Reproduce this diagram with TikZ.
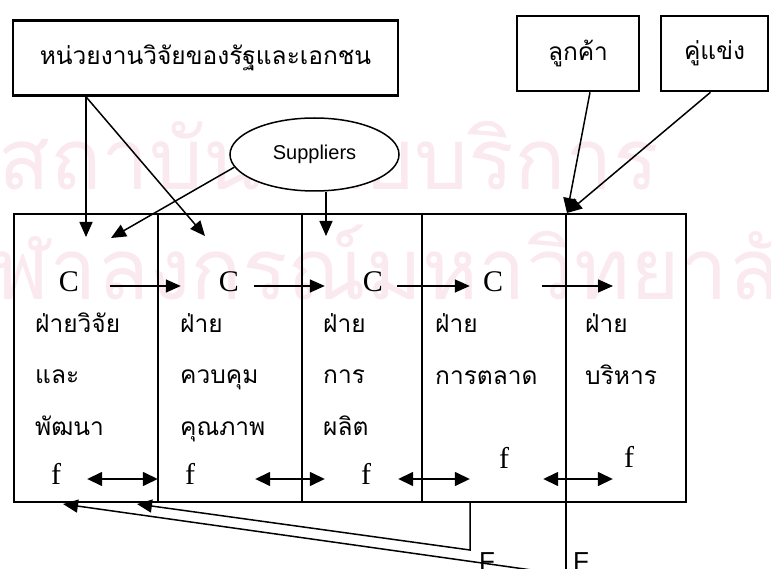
\documentclass[tikz,border=0pt]{standalone}
\usepackage{fontspec}
\usepackage{xcolor}
\usepackage{tikz}
\usetikzlibrary{
  positioning,
  calc,
  arrows.meta,
  shapes.geometric
}
\setmainfont{Liberation Serif}
\setsansfont{Liberation Sans}
\newfontfamily\thaifont[Script=Thai]{Loma}
\definecolor{stamppink}{RGB}{250,233,239}

\begin{document}
\begin{tikzpicture}[x=1pt, y=-1pt,
    flow/.style={line width=1.5pt, -{Triangle[length=15pt, width=13pt]}},
    twoway/.style={line width=1.5pt, {Triangle[length=15pt, width=14pt]}-{Triangle[length=15pt, width=14pt]}},
    plain/.style={line width=1.5pt},
    sourcebox/.style={draw, line width=2.6pt, fill=white, inner sep=0pt, minimum height=75pt,
      font=\thaifont\fontsize{24.5}{28}\selectfont},
    dept/.style={draw, line width=1.5pt, inner sep=0pt, outer sep=0pt, minimum height=288pt},
    depttext/.style={anchor=base west, align=left, inner sep=0pt,
      font=\thaifont\fontsize{24.5}{51.5}\selectfont},
    flowmark/.style={anchor=base, inner sep=0pt, font=\fontsize{30}{30}\selectfont},
    stamp/.style={inner sep=0pt, text=stamppink, font=\thaifont\fontsize{85}{85}\selectfont}
  ]
      \clip (0,0) rectangle (771,569);

      % Background stamp lettering
      \node[stamp, anchor=base west] (stamptop) at (-2,190) {สถาบันวิทยบริการ};
      \node[stamp, anchor=base east] (stampbottom) at (830,300) {จุฬาลงกรณ์มหาวิทยาลัย};

      % Outside sources
      \node[sourcebox, minimum width=385pt] (research) at (205.5,58) {หน่วยงานวิจัยของรัฐและเอกชน};
      \node[sourcebox, minimum width=122pt] (customer) at (578,53.5) {ลูกค้า};
      \node[sourcebox, minimum width=107pt] (rival) at (714.5,53.5) {คู่แข่ง};
      \node[draw, ellipse, line width=1.5pt, fill=white, minimum width=169pt, minimum height=73pt,
        inner sep=0pt, font=\sffamily\fontsize{20}{20}\selectfont] (suppliers) at (314.5,154.5) {Suppliers};

      % Departments
      \node[dept, minimum width=144pt] (rd) at (86,358) {};
      \node[dept, minimum width=144pt, right=0pt of rd] (qc) {};
      \node[dept, minimum width=120pt, right=0pt of qc] (mfg) {};
      \node[dept, minimum width=144pt, right=0pt of mfg] (mkt) {};
      \node[dept, minimum width=120pt, right=0pt of mkt] (adm) {};

      % (base of a multi-line node sits on its last line)
      \node[depttext] (rdtext) at (35,435) {ฝ่ายวิจัย\\และ\\พัฒนา};
      \node[depttext] (qctext) at (180,435) {ฝ่าย\\ควบคุม\\คุณภาพ};
      \node[depttext] (mfgtext) at (323,435) {ฝ่าย\\การ\\ผลิต};
      \node[depttext] (mkttext) at (435,384) {ฝ่าย\\การตลาด};
      \node[depttext] (admtext) at (585,384) {ฝ่าย\\บริหาร};

      % C flow between departments
      \node[flowmark] (c1) at (69,292) {C};
      \node[flowmark] (c2) at (229,292) {C};
      \node[flowmark] (c3) at (373,292) {C};
      \node[flowmark] (c4) at (493,292) {C};
      \coordinate (crow) at (0,286);
      \coordinate (cend) at (613,286);
      \draw[flow, shorten <=31pt, shorten >=38pt] (c1.east |- crow) -- (c2.west |- crow);
      \draw[flow, shorten <=15pt, shorten >=38pt] (c2.east |- crow) -- (c3.west |- crow);
      \draw[flow, shorten <=14pt, shorten >=13pt] (c3.east |- crow) -- (c4.west |- crow);
      \draw[flow, shorten <=39pt] (c4.east |- crow) -- (cend);

      % f exchange between departments
      \node[flowmark] (f1) at (56,484) {f};
      \node[flowmark] (f2) at (190,484) {f};
      \node[flowmark] (f3) at (366,484) {f};
      \node[flowmark] (f4) at (504,468) {f};
      \node[flowmark] (f5) at (629,467) {f};
      \coordinate (frow) at (0,479);
      \draw[twoway, shorten <=26pt, shorten >=27pt] (f1.east |- frow) -- (f2.west |- frow);
      \draw[twoway, shorten <=60pt, shorten >=36pt] (f2.east |- frow) -- (f3.west |- frow);
      \draw[twoway, shorten <=27pt, shorten >=29pt] (f3.east |- frow) -- (f4.west |- frow);
      \draw[twoway, shorten <=34pt, shorten >=11pt] (f4.east |- frow) -- (f5.west |- frow);

      % Inputs from outside
      \coordinate (rdin) at (86,237);
      \coordinate (qcin) at (205,236);
      \coordinate (supin) at (111,238);
      \coordinate (mfgin) at (326,236);
      \coordinate (mktin) at (567,213);
      \draw[flow] (research.south -| rdin) -- (rdin);
      \draw[flow] (research.south -| rdin) -- (qcin);
      \draw[flow] (suppliers.189) -- (supin);
      \draw[flow] (suppliers.south -| mfgin) -- (mfgin);
      \draw[flow] ([xshift=12pt]customer.south) -- (mktin);
      \draw[flow] ([xshift=-4pt]rival.south) -- (mktin);

      % Feedback F
      \node[inner sep=0pt, anchor=north west, font=\sffamily\fontsize{26}{26}\selectfont] (Fmid) at (479,552) {F};
      \node[inner sep=0pt, anchor=north west, font=\sffamily\fontsize{26}{26}\selectfont] (Fright) at (573,552) {F};
      \coordinate (mktdrop) at (470,550);
      \coordinate (rdback1) at (137,504);
      \coordinate (rdback2) at (63,504);
      \coordinate (Fin) at (560,574);
      \coordinate (admdown) at (566,590);
      \draw[flow] (mkt.south -| mktdrop) -- (mktdrop) -- (rdback1);
      \draw[flow] (Fin) -- (rdback2);
      \draw[plain] (adm.north west) -- (admdown);
    \end{tikzpicture}
\end{document}
